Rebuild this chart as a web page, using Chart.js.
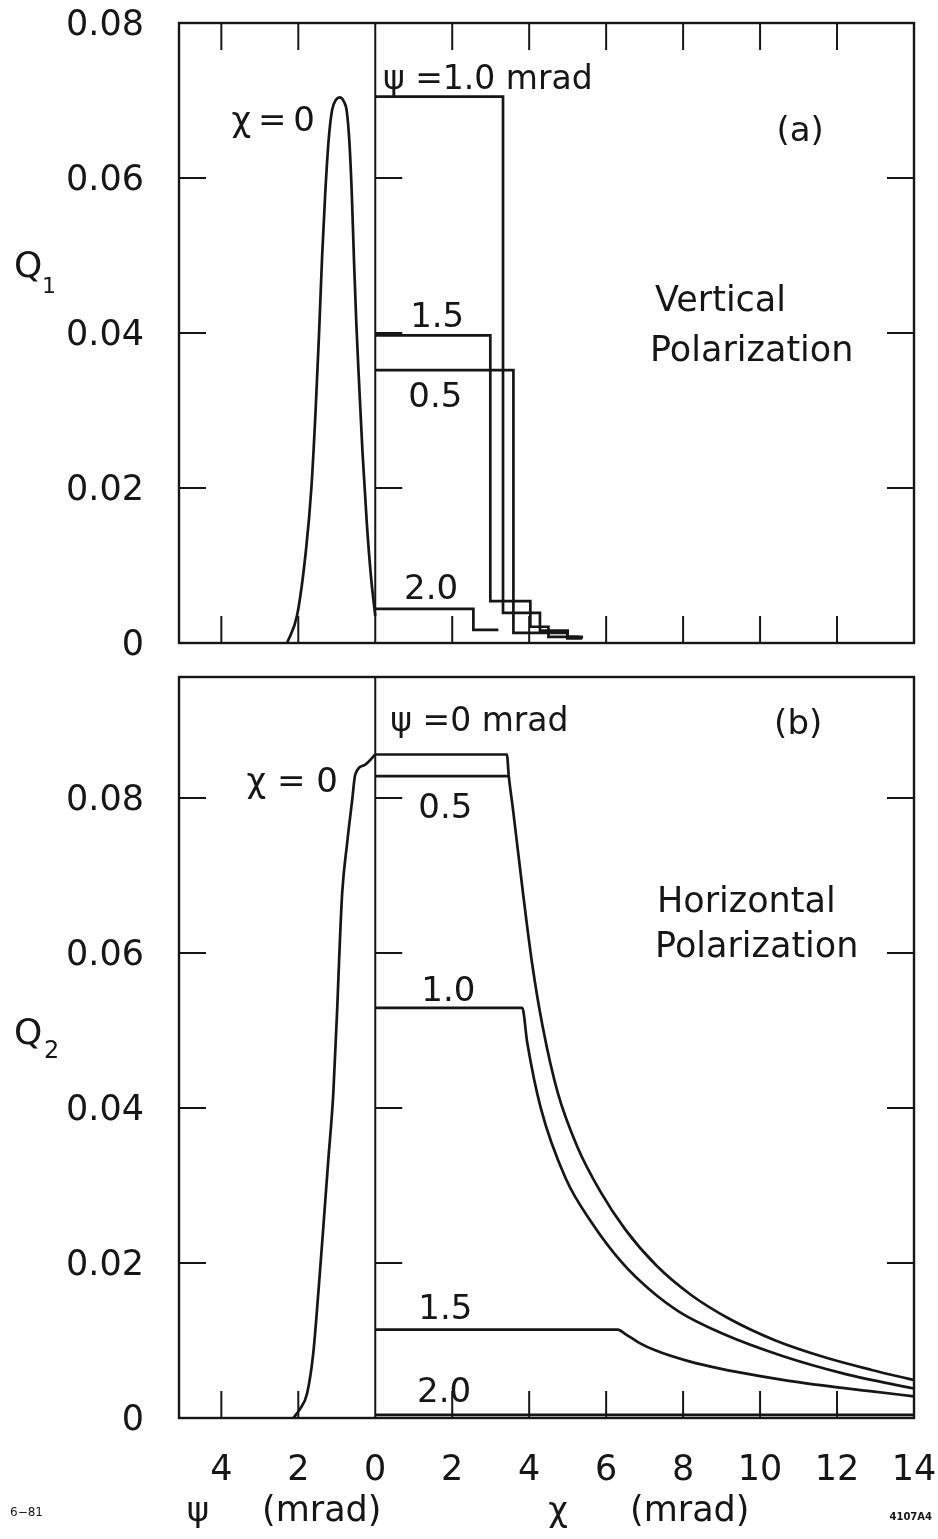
<!DOCTYPE html>
<html>
<head>
<meta charset="utf-8">
<script src="https://cdn.jsdelivr.net/npm/chart.js@4.4.1/dist/chart.umd.min.js"></script>
<style>
  html, body { margin: 0; padding: 0; background: #fff; }
  #page { position: relative; width: 938px; height: 1539px; overflow: hidden; background: #fff; }
  canvas { position: absolute; left: 0; }
  #topChart { top: 0; }
  #bottomChart { top: 660px; }
</style>
</head>
<body>
<div id="page">
  <canvas id="topChart" width="938" height="665"></canvas>
  <canvas id="bottomChart" width="938" height="879"></canvas>
</div>
<script>
// axis ticks (left of 0 is psi, right of 0 is chi, both in mrad)
const xTicks = [-4, -2, 0, 2, 4, 6, 8, 10, 12, 14];
const yTicksTop = [0, 0.02, 0.04, 0.06, 0.08];
const yTicksBottom = [0, 0.02, 0.04, 0.06, 0.08];

// (a) vertical polarization, Q1
// chi = 0, plotted against psi
const q1PeakX = [-2.29, -2.03, -1.80, -1.66, -1.55, -1.46, -1.38, -1.30, -1.21, -1.12, -1.02, -0.92, -0.82, -0.74, -0.67, -0.61, -0.55, -0.49, -0.42, -0.33, -0.22, -0.11, 0];
const q1PeakY = [0, 0.0036, 0.012, 0.020, 0.030, 0.040, 0.050, 0.058, 0.065, 0.0688, 0.0701, 0.0704, 0.0699, 0.0686, 0.0645, 0.058, 0.049, 0.041, 0.0335, 0.0245, 0.0155, 0.0085, 0.0035];
// step curves against chi for psi = 1.0, 1.5, 0.5, 2.0
const q1Psi10X = [0, 3.32, 4.28, 5.0, 5.4];
const q1Psi10Y = [0.0705, 0.0039, 0.0016, 0.0008, 0.0008];
const q1Psi15X = [0, 2.99, 4.03, 4.5, 5.3];
const q1Psi15Y = [0.0397, 0.0054, 0.0021, 0.0008, 0.0008];
const q1Psi05X = [0, 3.59, 4.99, 5.38];
const q1Psi05Y = [0.0352, 0.0013, 0.0006, 0.0006];
const q1Psi20X = [0, 2.55, 3.2];
const q1Psi20Y = [0.0044, 0.0017, 0.0017];

// (b) horizontal polarization, Q2
const q2PeakX = [-2.13, -1.95, -1.77, -1.61, -1.48, -1.35, -1.22, -1.09, -0.99, -0.94, -0.86, -0.73, -0.60, -0.52, -0.26, 0];
const q2PeakY = [0, 0.0012, 0.0032, 0.0084, 0.0161, 0.0246, 0.0333, 0.0419, 0.0526, 0.059, 0.0677, 0.0742, 0.0797, 0.083, 0.0843, 0.0856];
const q2Psi00X = [0, 3.42, 3.47, 3.58, 3.84, 4.08, 4.35, 4.74, 5.25, 5.84, 6.5, 7.3, 8.2, 9.2, 10.4, 11.7, 12.9, 14];
const q2Psi00Y = [0.0856, 0.0856, 0.0828, 0.0785, 0.0677, 0.0585, 0.0505, 0.042, 0.035, 0.0293, 0.0243, 0.0197, 0.0159, 0.0128, 0.010, 0.0078, 0.0062, 0.0049];
const q2Psi05X = [0, 3.45];
const q2Psi05Y = [0.0828, 0.0828];
const q2Psi10X = [0, 3.82, 3.95, 4.3, 4.95, 5.64, 6.42, 7.12, 7.9, 9.02, 10.58, 12.2, 14];
const q2Psi10Y = [0.0529, 0.0529, 0.0484, 0.040, 0.0309, 0.0251, 0.020, 0.0166, 0.0137, 0.0109, 0.008, 0.0057, 0.0038];
const q2Psi15X = [0, 6.3, 6.51, 6.86, 7.29, 8.16, 9.02, 9.89, 10.75, 11.62, 12.8, 14];
const q2Psi15Y = [0.0114, 0.0114, 0.0108, 0.0097, 0.0087, 0.0073, 0.0063, 0.0055, 0.0048, 0.0042, 0.0035, 0.0028];
const q2Psi20X = [0, 14];
const q2Psi20Y = [0.0004, 0.0004];

const INK = '#161616';
const FONT = '"DejaVu Sans", sans-serif';
const X_MIN = -5.1, X_MAX = 14;

function series(xs, ys, extra) {
    return Object.assign({
        data: xs.map((x, i) => ({x: x, y: ys[i]})),
        borderColor: INK,
        borderWidth: 2.7,
        pointRadius: 0,
        fill: false,
        showLine: true,
        cubicInterpolationMode: 'monotone'
    }, extra || {});
}

// labels hanging over the ends of an axis must not shrink the plot
function noOverflow(s) {
    s.paddingLeft = 0;
    s.paddingRight = 0;
    s.paddingTop = 0;
    s.paddingBottom = 0;
}

// frame, inward ticks, zero line and the lettering
function framePlugin(cfg) {
    return {
        id: 'frame',
        afterDraw(chart) {
            const {ctx, chartArea: a} = chart;
            const x = chart.scales.x, y = chart.scales.y;
            ctx.save();
            ctx.strokeStyle = INK;
            ctx.lineWidth = 2.4;
            ctx.strokeRect(a.left, a.top, a.right - a.left, a.bottom - a.top);

            const x0 = x.getPixelForValue(0);
            const T = 27;
            ctx.lineWidth = 2;
            ctx.beginPath();
            ctx.moveTo(x0, a.top);
            ctx.lineTo(x0, a.bottom);
            xTicks.forEach(v => {
                if (v === 0 || v >= X_MAX) return;
                const px = x.getPixelForValue(v);
                ctx.moveTo(px, a.bottom);
                ctx.lineTo(px, a.bottom - T);
                if (cfg.topTicks) {
                    ctx.moveTo(px, a.top);
                    ctx.lineTo(px, a.top + T);
                }
            });
            cfg.yTicks.forEach(v => {
                if (v <= 0 || v >= y.max) return;
                const py = y.getPixelForValue(v);
                ctx.moveTo(a.left, py); ctx.lineTo(a.left + T, py);
                ctx.moveTo(x0, py); ctx.lineTo(x0 + T, py);
                ctx.moveTo(a.right, py); ctx.lineTo(a.right - T, py);
            });
            ctx.stroke();

            ctx.fillStyle = INK;
            ctx.textBaseline = 'middle';
            cfg.notes.forEach(n => {
                ctx.font = (n.size || 34) + 'px ' + FONT;
                ctx.textAlign = n.align || 'center';
                ctx.fillText(n.text, x.getPixelForValue(n.x), y.getPixelForValue(n.y));
            });
            // free text in canvas pixels (axis names, plate marks)
            cfg.texts.forEach(t => {
                ctx.font = (t.weight || 'normal') + ' ' + t.size + 'px ' + FONT;
                ctx.textAlign = t.align || 'left';
                ctx.fillText(t.text, t.px, t.py);
            });
            ctx.restore();
        }
    };
}

function makeChart(id, datasets, yMax, yTicks, opts) {
    const canvas = document.getElementById(id);
    return new Chart(canvas.getContext('2d'), {
        type: 'scatter',
        data: {datasets: datasets},
        options: {
            responsive: false,
            animation: false,
            layout: {padding: {top: opts.top, right: 938 - 914, left: 0, bottom: 0}},
            plugins: {legend: {display: false}, tooltip: {enabled: false}},
            elements: {line: {tension: 0}},
            scales: {
                x: {
                    type: 'linear',
                    min: X_MIN,
                    max: X_MAX,
                    afterBuildTicks: s => { s.ticks = xTicks.map(v => ({value: v})); },
                    afterFit: s => { s.height = canvas.height - opts.bottom; noOverflow(s); },
                    grid: {display: false},
                    border: {display: false},
                    ticks: {
                        display: opts.xLabels,
                        padding: 24,
                        color: INK,
                        font: {family: FONT, size: 35},
                        maxRotation: 0,
                        callback: v => String(Math.abs(v))
                    }
                },
                y: {
                    type: 'linear',
                    min: 0,
                    max: yMax,
                    afterBuildTicks: s => { s.ticks = yTicks.map(v => ({value: v})); },
                    afterFit: s => { s.width = 179; noOverflow(s); },
                    grid: {display: false},
                    border: {display: false},
                    ticks: {
                        padding: 27,
                        labelOffset: 3,
                        color: INK,
                        font: {family: FONT, size: 35},
                        callback: v => v === 0 ? '0' : v.toFixed(2)
                    }
                }
            }
        },
        plugins: [framePlugin(opts)]
    });
}

makeChart('topChart', [
    series(q1PeakX, q1PeakY),
    series(q1Psi10X, q1Psi10Y, {stepped: 'before'}),
    series(q1Psi15X, q1Psi15Y, {stepped: 'before'}),
    series(q1Psi05X, q1Psi05Y, {stepped: 'before'}),
    series(q1Psi20X, q1Psi20Y, {stepped: 'before'})
], 0.08, yTicksTop, {
    top: 23,
    bottom: 643,
    xLabels: false,
    topTicks: true,
    yTicks: yTicksTop,
    notes: [
        {text: 'ψ =1.0 mrad', x: 0.2, y: 0.0726, align: 'left', size: 33},
        {text: 'χ\u2009=\u20090', x: -2.65, y: 0.0672},
        {text: '(a)', x: 11.04, y: 0.0659},
        {text: 'Vertical', x: 7.27, y: 0.044, align: 'left', size: 35},
        {text: 'Polarization', x: 7.14, y: 0.0375, align: 'left', size: 35},
        {text: '1.5', x: 1.61, y: 0.0419},
        {text: '0.5', x: 1.56, y: 0.0316},
        {text: '2.0', x: 1.45, y: 0.0068}
    ],
    texts: [
        {text: 'Q', px: 14, py: 268, size: 36},
        {text: '1', px: 42, py: 287, size: 22}
    ]
});

makeChart('bottomChart', [
    series(q2PeakX, q2PeakY),
    series(q2Psi00X, q2Psi00Y),
    series(q2Psi05X, q2Psi05Y),
    series(q2Psi10X, q2Psi10Y),
    series(q2Psi15X, q2Psi15Y),
    series(q2Psi20X, q2Psi20Y)
], 0.0956, yTicksBottom, {
    top: 17,
    bottom: 758,
    xLabels: true,
    topTicks: false,
    yTicks: yTicksBottom,
    notes: [
        {text: 'ψ =0 mrad', x: 0.39, y: 0.0898, align: 'left', size: 33},
        {text: 'χ = 0', x: -2.16, y: 0.0819},
        {text: '(b)', x: 10.99, y: 0.0894},
        {text: '0.5', x: 1.82, y: 0.0785},
        {text: 'Horizontal', x: 7.32, y: 0.0665, align: 'left', size: 35},
        {text: 'Polarization', x: 7.27, y: 0.0606, align: 'left', size: 35},
        {text: '1.0', x: 1.9, y: 0.055},
        {text: '1.5', x: 1.82, y: 0.0139},
        {text: '2.0', x: 1.79, y: 0.0032}
    ],
    texts: [
        {text: 'Q', px: 14, py: 375, size: 36},
        {text: '2', px: 44, py: 392, size: 24},
        {text: 'ψ', px: 198, py: 852, size: 34, align: 'center'},
        {text: '(mrad)', px: 262, py: 852, size: 35},
        {text: 'χ', px: 558, py: 852, size: 34, align: 'center'},
        {text: '(mrad)', px: 630, py: 852, size: 35},
        {text: '6−81', px: 10, py: 853, size: 12},
        {text: '4107A4', px: 932, py: 857, size: 10, weight: 'bold', align: 'right'}
    ]
});
</script>
</body>
</html>
